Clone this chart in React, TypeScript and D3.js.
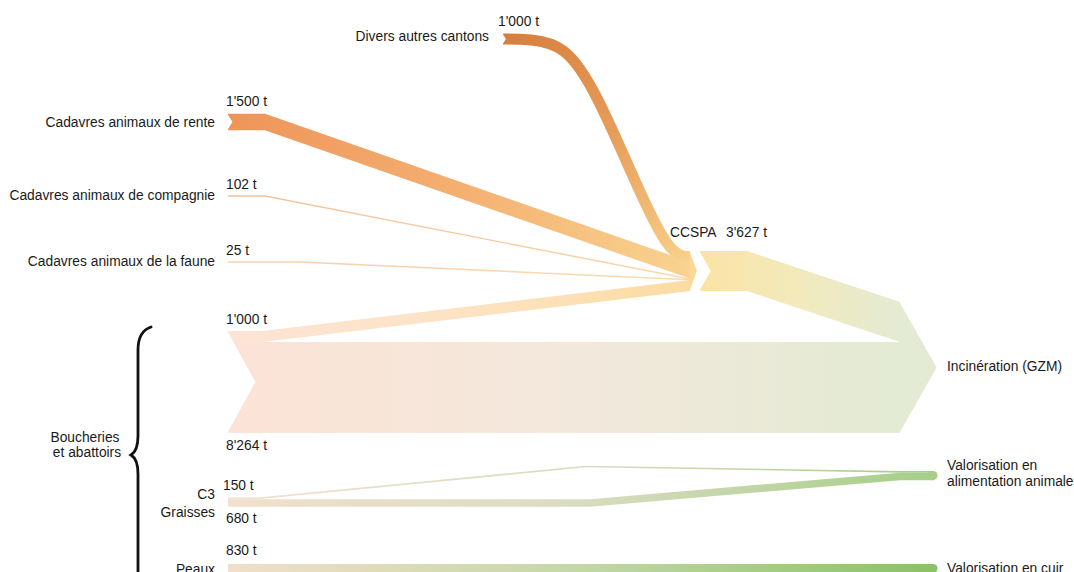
import React from "react";
import * as d3 from "d3";

// ---------- data ----------
const ccspaSources = [
  "Divers autres cantons",
  "Cadavres animaux de rente",
  "Cadavres animaux de compagnie",
  "Cadavres animaux de la faune",
  "Boucheries et abattoirs",
];
const ccspaValues = [1000, 1500, 102, 25, 1000];
const ccspaTotal = 3627;
const incinerationDirect = 8264;
const byProducts = ["C3", "Graisses", "Peaux"];
const byProductValues = [150, 680, 830];
const targets = ["Incinération (GZM)", "Valorisation en alimentation animale", "Valorisation en cuir"];

const locale = d3.formatLocale({ decimal: ".", thousands: "'", grouping: [3], currency: ["", ""] });
const fmt = (v: number) => locale.format(",")(v) + " t";

const FONT = "'Liberation Sans', Arial, sans-serif";

export default function App() {
  const w = d3.scaleLinear().domain([0, 1000]).range([0, 11]);
  const vis = (v: number) => Math.max(w(v), 1.4);

  const xL = 228; // left start of flows
  const xC = 690; // CCSPA arrival
  const xCo = 700; // CCSPA departure
  const xR = 900; // right arrows
  const tipRatio = 0.28;

  // stack at CCSPA
  const ccTop = 251;
  let acc = ccTop;
  const ccCenters = ccspaValues.map((v) => {
    const c = acc + w(v) / 2;
    acc += w(v);
    return c;
  });
  const ccBottom = acc;
  const ccH = w(ccspaTotal);
  const ccMid = ccTop + ccH / 2;

  // incineration block
  const blockTop = 342;
  const blockH = w(incinerationDirect);
  const blockBottom = blockTop + blockH;
  const branchW = w(ccspaValues[4]);
  const branchC = blockTop - branchW / 2;
  const incTop = blockTop - ccH;
  const incH = ccH + blockH;
  const incMid = incTop + incH / 2;

  const band = (pts: [number, number][], width: number) =>
    d3
      .area<[number, number]>()
      .x((d) => d[0])
      .y0((d) => d[1] - width / 2)
      .y1((d) => d[1] + width / 2)
      .curve(d3.curveLinear)(pts) as string;

  const leftY = [39, 122, 196, 262, branchC];
  const bendX = [0, 265, 265, 300, 262];

  // Divers path (curved)
  const diversPath = d3
    .line<[number, number]>()
    .curve(d3.curveBasis)([
    [503, leftY[0]],
    [530, leftY[0]],
    [564, 45],
    [594, 86],
    [645, 205],
    [667, 246],
    [680, ccCenters[0]],
    [xC, ccCenters[0]],
  ]) as string;

  const ccGrads = [
    ["#d67f3e", "#e79d5a", "#f8d08a"],
    ["#ef9459", "#f4b071", "#f9d390"],
    ["#f5bf97", "#f7c9a0", "#fad8a6"],
    ["#f8cfae", "#f9d4ad", "#fbdcae"],
    ["#fde4d5", "#fde3c4", "#fcdca2"],
  ];

  // bottom flows
  const bTop = 497.5;
  const c3W = vis(byProductValues[0]);
  const grW = w(byProductValues[1]);
  const c3C = bTop + c3W / 2;
  const grC = bTop + c3W + grW / 2;
  const feedW = w(byProductValues[0] + byProductValues[1]);
  const feedTop = 471;
  const feedC = feedTop + feedW / 2;
  const c3R = feedTop + c3W / 2;
  const grR = feedTop + c3W + grW / 2;
  const xEnd = 933;
  const peauxW = w(byProductValues[2]);
  const peauxC = 564 + peauxW / 2;

  const textStyle: React.CSSProperties = { fontFamily: FONT, fontSize: 13.8, fill: "#1a1a1a" };

  const notch = (x: number, top: number, h: number) =>
    `${x - 1},${top - 0.5} ${x + h * 0.27},${top + h / 2} ${x - 1},${top + h + 0.5}`;

  return (
    <div style={{ position: "absolute", left: 0, top: 0, width: 1074, height: 572, overflow: "hidden", background: "#fff" }}>
      <svg width={1074} height={572} style={{ display: "block" }}>
        <defs>
          {ccGrads.map((g, i) => (
            <linearGradient
              key={i}
              id={`cc${i}`}
              gradientUnits="userSpaceOnUse"
              x1={i === 0 ? 503 : xL}
              y1={leftY[i]}
              x2={xC}
              y2={ccCenters[i]}
            >
              <stop offset="0" stopColor={g[0]} />
              <stop offset="0.5" stopColor={g[1]} />
              <stop offset="1" stopColor={g[2]} />
            </linearGradient>
          ))}
          <linearGradient id="block" gradientUnits="userSpaceOnUse" x1={xL} y1={0} x2={xR} y2={0}>
            <stop offset="0" stopColor="#fce3d6" />
            <stop offset="0.5" stopColor="#f3e8dc" />
            <stop offset="1" stopColor="#e3ebd4" />
          </linearGradient>
          <linearGradient id="out" gradientUnits="userSpaceOnUse" x1={xCo} y1={0} x2={xR} y2={0}>
            <stop offset="0" stopColor="#fbe3a4" />
            <stop offset="0.5" stopColor="#f2eabd" />
            <stop offset="1" stopColor="#e4ebd3" />
          </linearGradient>
          <linearGradient id="feed" gradientUnits="userSpaceOnUse" x1={xL} y1={0} x2={xEnd} y2={0}>
            <stop offset="0" stopColor="#f1e0cd" />
            <stop offset="0.5" stopColor="#d9dcc0" />
            <stop offset="1" stopColor="#a6ce89" />
          </linearGradient>
          <linearGradient id="peaux" gradientUnits="userSpaceOnUse" x1={xL} y1={0} x2={xEnd} y2={0}>
            <stop offset="0" stopColor="#f1dfcb" />
            <stop offset="0.5" stopColor="#c4d7a6" />
            <stop offset="1" stopColor="#8bc168" />
          </linearGradient>
        </defs>

        {/* incineration direct block */}
        <rect x={xL} y={blockTop} width={xR - xL} height={blockH} fill="url(#block)" />
        <polygon points={`${xR - 0.5},${incTop} ${xR + incH * tipRatio},${incMid} ${xR - 0.5},${blockBottom}`} fill="#e3ebd4" />

        {/* CCSPA outflow */}
        <path
          d={band(
            [
              [xCo, ccMid],
              [747, ccMid],
              [xR, incTop + ccH / 2],
            ],
            ccH
          )}
          fill="url(#out)"
        />
        <polygon points={notch(xCo, ccTop, ccH)} fill="#fff" />

        {/* inflows to CCSPA */}
        {ccspaValues.map((v, i) => {
          if (i === 0) {
            return <path key={i} d={diversPath} fill="none" stroke="url(#cc0)" strokeWidth={w(v)} />;
          }
          const pts: [number, number][] = [
            [xL, leftY[i]],
            [bendX[i], leftY[i]],
            [xC, ccCenters[i]],
          ];
          return <path key={i} d={band(pts, vis(v))} fill={`url(#cc${i})`} />;
        })}
        <polygon points={`${xC - 0.5},${ccTop} ${xC + ccH * 0.17},${ccMid} ${xC - 0.5},${ccBottom}`} fill="#fbd896" />

        {/* start notches */}
        <polygon points={notch(503, leftY[0] - w(ccspaValues[0]) / 2, w(ccspaValues[0]))} fill="#fff" />
        <polygon points={notch(xL, leftY[1] - w(ccspaValues[1]) / 2, w(ccspaValues[1]))} fill="#fff" />
        <polygon points={notch(xL, blockTop - branchW, branchW + blockH)} fill="#fff" />

        {/* by-products */}
        <path
          d={band(
            [
              [xL, c3C],
              [258, c3C],
              [586, 466.5],
              [xR, c3R],
              [xEnd, c3R],
            ],
            c3W
          )}
          fill="url(#feed)"
        />
        <path
          d={band(
            [
              [xL, grC],
              [590, grC],
              [xR, grR],
              [xEnd, grR],
            ],
            grW
          )}
          fill="url(#feed)"
        />
        <circle cx={xEnd} cy={feedC} r={feedW / 2} fill="#a6ce89" />
        <path
          d={band(
            [
              [xL, peauxC],
              [xEnd, peauxC],
            ],
            peauxW
          )}
          fill="url(#peaux)"
        />
        <circle cx={xEnd} cy={peauxC} r={peauxW / 2} fill="#8bc168" />

        {/* brace */}
        <path
          d="M151,327 C142,330 138,337 138,350 L138,436 C138,447 136,452 131,455 C136,458 138,463 138,474 L138,590"
          fill="none"
          stroke="#111"
          strokeWidth={2.8}
          strokeLinecap="round"
        />

        {/* labels */}
        <g style={textStyle}>
          <text x={498} y={26}>{fmt(ccspaValues[0])}</text>
          <text x={489} y={41} textAnchor="end">{ccspaSources[0]}</text>

          <text x={226} y={106}>{fmt(ccspaValues[1])}</text>
          <text x={215} y={127} textAnchor="end">{ccspaSources[1]}</text>

          <text x={226} y={189}>{fmt(ccspaValues[2])}</text>
          <text x={215} y={200} textAnchor="end">{ccspaSources[2]}</text>

          <text x={226} y={255}>{fmt(ccspaValues[3])}</text>
          <text x={215} y={266} textAnchor="end">{ccspaSources[3]}</text>

          <text x={226} y={324}>{fmt(ccspaValues[4])}</text>
          <text x={226} y={450}>{fmt(incinerationDirect)}</text>

          <text x={85} y={442} textAnchor="middle">Boucheries</text>
          <text x={87} y={457} textAnchor="middle">et abattoirs</text>

          <text x={670} y={237}>{"CCSPA"}</text>
          <text x={726} y={237}>{fmt(ccspaTotal)}</text>

          <text x={223} y={490}>{fmt(byProductValues[0])}</text>
          <text x={215} y={499} textAnchor="end">{byProducts[0]}</text>
          <text x={215} y={517} textAnchor="end">{byProducts[1]}</text>
          <text x={226} y={523}>{fmt(byProductValues[1])}</text>
          <text x={226} y={555}>{fmt(byProductValues[2])}</text>
          <text x={215} y={574} textAnchor="end">{byProducts[2]}</text>

          <text x={947} y={371}>{targets[0]}</text>
          <text x={947} y={470}>Valorisation en</text>
          <text x={947} y={486}>alimentation animale</text>
          <text x={947} y={573}>{targets[2]}</text>
        </g>
      </svg>
    </div>
  );
}
